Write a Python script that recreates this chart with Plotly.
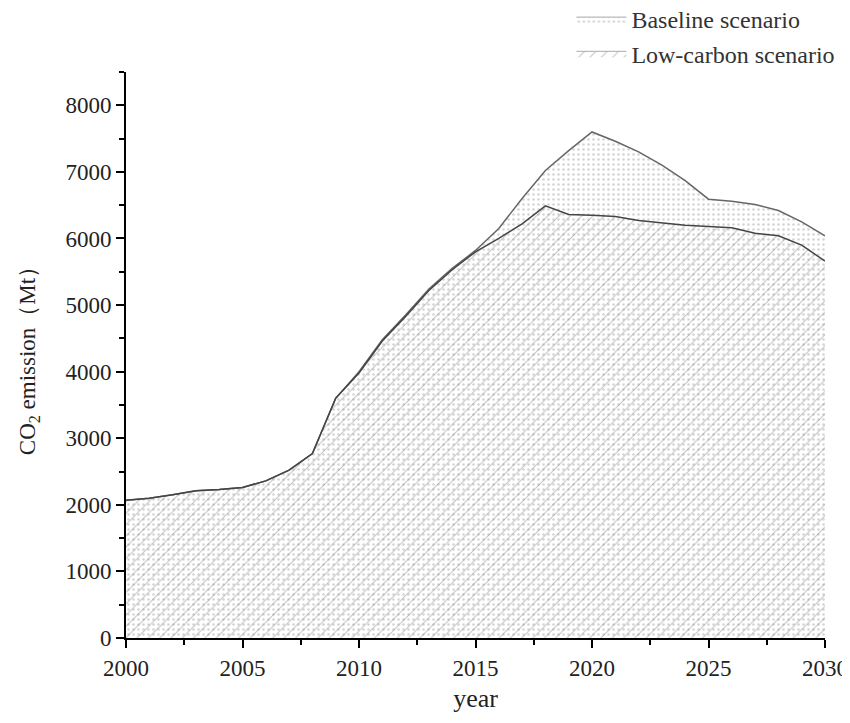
import plotly.graph_objects as go

years = list(range(2000, 2031))
baseline = [2070, 2100, 2150, 2210, 2230, 2260, 2360, 2520, 2770, 3600,
            4000, 4480, 4850, 5240, 5550, 5820, 6150, 6600, 7020, 7320,
            7600, 7460, 7300, 7100, 6870, 6590, 6560, 6510, 6420, 6250, 6040]
low_carbon = [2070, 2100, 2150, 2210, 2230, 2260, 2360, 2520, 2770, 3600,
              3980, 4460, 4830, 5220, 5530, 5800, 6000, 6220, 6490, 6360,
              6350, 6330, 6270, 6230, 6200, 6180, 6160, 6080, 6040, 5900, 5660]
series_names = ["Baseline scenario", "Low-carbon scenario"]

FONT = "Liberation Serif, Times New Roman, serif"

dot_pattern = dict(shape=".", fgcolor="#a8a8a8", bgcolor="rgba(255,255,255,0)",
                   size=5, solidity=0.2)
hatch_pattern = dict(shape="/", fgcolor="#808080", bgcolor="rgba(255,255,255,0)",
                     size=8, solidity=0.12)

fig = go.Figure()
fig.add_trace(go.Scatter(
    x=years, y=baseline, name=series_names[0], mode="lines", showlegend=False,
    line=dict(color="#666666", width=1.5),
    fill="tozeroy", fillcolor="rgba(0,0,0,0)", fillpattern=dot_pattern,
))
fig.add_trace(go.Scatter(
    x=years, y=low_carbon, name=series_names[1], mode="lines", showlegend=False,
    line=dict(color="#444444", width=1.5),
    fill="tozeroy", fillcolor="rgba(0,0,0,0)", fillpattern=hatch_pattern,
))
# legend entries (box swatches)
fig.add_trace(go.Scatter(
    x=[None], y=[None], name=series_names[0], mode="lines", fill="toself",
    line=dict(color="#aaaaaa", width=1), fillcolor="rgba(0,0,0,0)",
    fillpattern=dot_pattern, hoverinfo="skip",
))
fig.add_trace(go.Scatter(
    x=[None], y=[None], name=series_names[1], mode="lines", fill="toself",
    line=dict(color="#aaaaaa", width=1), fillcolor="rgba(0,0,0,0)",
    fillpattern=hatch_pattern, hoverinfo="skip",
))

fig.update_layout(
    width=842, height=705,
    paper_bgcolor="white", plot_bgcolor="white",
    margin=dict(l=118, r=25, t=64, b=75, autoexpand=False),
    font=dict(family=FONT, size=23, color="#222222"),
    showlegend=True,
    legend=dict(x=1.022, xanchor="right", y=1.1325, yanchor="top",
                font=dict(family=FONT, size=24, color="#333333"),
                bgcolor="rgba(0,0,0,0)", tracegroupgap=0, itemwidth=50),
    xaxis=dict(
        range=[2000, 2030], tickmode="linear", tick0=2000, dtick=5,
        showline=True, linecolor="black", linewidth=2,
        ticks="outside", ticklen=8, tickwidth=2, tickcolor="black",
        minor=dict(ticks="outside", ticklen=5, tickwidth=2, tickcolor="black", dtick=2.5),
        showgrid=False, zeroline=False, ticklabeloverflow="allow",
        title=dict(text="year", font=dict(family=FONT, size=26), standoff=12),
        tickfont=dict(family=FONT, size=23),
    ),
    yaxis=dict(
        range=[0, 8500], tickmode="linear", tick0=0, dtick=1000,
        showline=True, linecolor="black", linewidth=2,
        ticks="outside", ticklen=8, tickwidth=2, tickcolor="black",
        minor=dict(ticks="outside", ticklen=5, tickwidth=2, tickcolor="black", dtick=500),
        showgrid=False, zeroline=False,
        title=dict(text="CO<sub>2</sub> emission（Mt）", font=dict(family=FONT, size=23), standoff=23),
        tickfont=dict(family=FONT, size=23),
    ),
)

fig.write_html("out.html")
